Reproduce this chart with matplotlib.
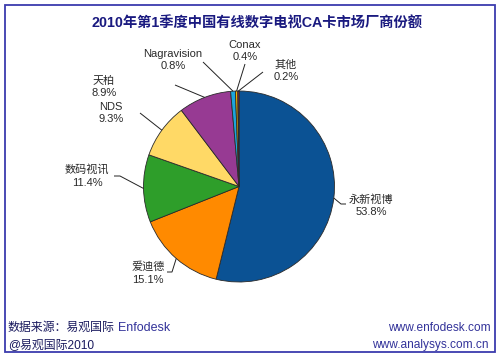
import matplotlib
matplotlib.use("Agg")
import matplotlib.pyplot as plt
import numpy as np
from matplotlib.patches import Rectangle

# ---- data ----
title = "2010年第1季度中国有线数字电视CA卡市场厂商份额"
vendors = ["永新视博", "爱迪德", "数码视讯", "NDS", "天柏", "Nagravision", "Conax", "其他"]
shares = [53.8, 15.1, 11.4, 9.3, 8.9, 0.8, 0.4, 0.2]
colors = ["#0B5294", "#FF8A00", "#2E9E2A", "#FFD966", "#973A93", "#1BA6DC", "#F2B400", "#E3184A"]
source_left = "数据来源：易观国际"
source_brand = "Enfodesk"
copyright_text = "@易观国际2010"
url1 = "www.enfodesk.com"
url2 = "www.analysys.com.cn"

# ---- layout (pixel coords from top-left) ----
W, H = 500, 356
def Y(y):
    return H - y

cx, cy, R = 239, 186.5, 95.5
# label text centre (x, y of block centre), line end point, horizontal tail
label_pos = {
    "永新视博": ((371, 206), (346, 204), -5),
    "爱迪德": ((148, 273), (167, 272), 5),
    "数码视讯": ((87, 176), (114, 176), 6),
    "NDS": ((111, 113), (140, 113), 0),
    "天柏": ((104, 87), (175, 85), 0),
    "Nagravision": ((173, 60), (203, 62), 0),
    "Conax": ((245, 51), (245, 64), 0),
    "其他": ((286, 71), (263, 72), 0),
}

fam = ["Liberation Sans", "Noto Sans CJK SC", "DejaVu Sans"]
plt.rcParams["font.family"] = fam

fig = plt.figure(figsize=(W / 100, H / 100), dpi=100)
ax = fig.add_axes([0, 0, 1, 1])

wedges, _ = ax.pie(shares, colors=colors, startangle=90, counterclock=False,
                   center=(cx, Y(cy)), radius=R,
                   wedgeprops=dict(edgecolor="#2a2a2a", linewidth=0.6))
ax.set_xlim(0, W)
ax.set_ylim(0, H)
ax.set_aspect("equal")
ax.axis("off")

for w, name, val in zip(wedges, vendors, shares):
    mid = np.deg2rad((w.theta1 + w.theta2) / 2)
    ex = cx + R * np.cos(mid)
    ey = Y(cy) + R * np.sin(mid)
    (tx, ty), (lx, ly), tail = label_pos[name]
    xs = [ex, lx + tail, lx] if tail else [ex, lx]
    ys = [ey, Y(ly), Y(ly)] if tail else [ey, Y(ly)]
    ax.plot(xs, ys, color="#222222", lw=0.7, solid_capstyle="butt")
    ax.text(tx, Y(ty), f"{name}\n{val:.1f}%", ha="center", va="center",
            fontsize=8, color="#2a2a2a", linespacing=1.3, family=fam)

# title
ax.text(257, Y(24), title, ha="center", va="center", fontsize=10.3,
        fontweight="bold", color="#1A1A80", family=fam)

# footer
ax.text(8, Y(328), source_left, ha="left", va="center", fontsize=8.6,
        color="#1a1a5e", family=fam)
ax.text(118, Y(328), source_brand, ha="left", va="center", fontsize=9,
        color="#33339A", family=fam)
ax.text(8, Y(345), copyright_text, ha="left", va="center", fontsize=8.6,
        color="#1a1a5e", family=fam)
ax.text(491, Y(328), url1, ha="right", va="center", fontsize=8.6,
        color="#33339A", family=fam)
ax.text(489, Y(345), url2, ha="right", va="center", fontsize=8.6,
        color="#33339A", family=fam)

# frame
ax.add_patch(Rectangle((5, Y(352)), 490, 347, fill=False,
                       edgecolor="#3C3CAE", linewidth=1.3))

fig.savefig("out.png", dpi=100)
